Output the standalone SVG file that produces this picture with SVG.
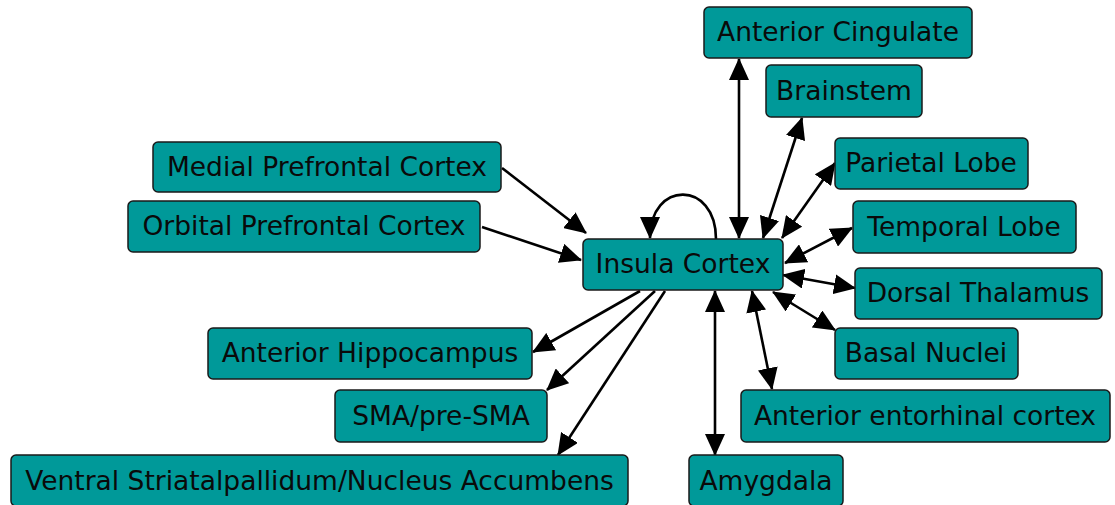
<svg xmlns="http://www.w3.org/2000/svg" width="1115" height="505" viewBox="0 0 1115 505">
  <style>
    .node rect { fill: #009999; stroke: #1a1a1a; stroke-width: 1.5; }
    .node text { font-family: "DejaVu Sans", "Verdana", sans-serif; font-size: 26.5px; fill: #0a0a0a; text-anchor: middle; }
    .edge { fill: none; stroke: #000; stroke-width: 2.6; }
    .one { marker-end: url(#arrow); }
    .two { marker-start: url(#arrow); marker-end: url(#arrow); }
  </style>
  <defs>
    <marker id="arrow" markerUnits="userSpaceOnUse" markerWidth="22" markerHeight="20" refX="21" refY="10" orient="auto-start-reverse" viewBox="0 0 22 20">
      <path d="M0,0 L22,10 L0,20 z" fill="#000"/>
    </marker>
  </defs>

  <rect width="1115" height="505" fill="#fff"/>

  <!-- connectors -->
  <g id="connectors">
    <path class="edge one" d="M502,168 L586,233"/>
    <path class="edge one" d="M482,227 L581,260"/>
    <path class="edge one" d="M716,239 C716,180 650,180 650,238"/>
    <path class="edge two" d="M739,59 L739,238"/>
    <path class="edge two" d="M802,118 L763,238"/>
    <path class="edge two" d="M835,163 L782,238"/>
    <path class="edge two" d="M852,228 L785,263"/>
    <path class="edge two" d="M855,288 L783,275"/>
    <path class="edge two" d="M835,330 L773,292"/>
    <path class="edge two" d="M772,389 L752,291"/>
    <path class="edge two" d="M715,291 L715,455"/>
    <path class="edge one" d="M640,291 L533,352"/>
    <path class="edge one" d="M655,291 L547,390"/>
    <path class="edge one" d="M665,291 L558,455"/>
  </g>

  <!-- nodes -->
  <g id="insula" class="node"><rect x="583" y="239" width="200" height="51" rx="5"/><text x="683" y="273">Insula Cortex</text></g>
  <g id="anterior-cingulate" class="node"><rect x="704" y="7" width="268" height="51" rx="5"/><text x="838" y="41">Anterior Cingulate</text></g>
  <g id="brainstem" class="node"><rect x="766" y="65" width="156" height="52" rx="5"/><text x="844" y="100">Brainstem</text></g>
  <g id="parietal" class="node"><rect x="835" y="138" width="193" height="51" rx="5"/><text x="931" y="172">Parietal Lobe</text></g>
  <g id="temporal" class="node"><rect x="853" y="201" width="223" height="52" rx="5"/><text x="964" y="236">Temporal Lobe</text></g>
  <g id="dorsal-thalamus" class="node"><rect x="855" y="268" width="247" height="51" rx="5"/><text x="978" y="302">Dorsal Thalamus</text></g>
  <g id="basal-nuclei" class="node"><rect x="835" y="328" width="183" height="51" rx="5"/><text x="926" y="362">Basal Nuclei</text></g>
  <g id="entorhinal" class="node"><rect x="741" y="390" width="369" height="52" rx="5"/><text x="925" y="425">Anterior entorhinal cortex</text></g>
  <g id="amygdala" class="node"><rect x="689" y="455" width="154" height="51" rx="5"/><text x="766" y="490">Amygdala</text></g>
  <g id="ventral-striatum" class="node"><rect x="11" y="455" width="617" height="51" rx="5"/><text x="319.5" y="490">Ventral Striatalpallidum/Nucleus Accumbens</text></g>
  <g id="sma" class="node"><rect x="335" y="390" width="212" height="52" rx="5"/><text x="441" y="425">SMA/pre-SMA</text></g>
  <g id="hippocampus" class="node"><rect x="208" y="328" width="324" height="51" rx="5"/><text x="370" y="362">Anterior Hippocampus</text></g>
  <g id="orbital-pfc" class="node"><rect x="128" y="201" width="352" height="51" rx="5"/><text x="304" y="235">Orbital Prefrontal Cortex</text></g>
  <g id="medial-pfc" class="node"><rect x="153" y="142" width="348" height="50" rx="5"/><text x="327" y="176">Medial Prefrontal Cortex</text></g>
</svg>
